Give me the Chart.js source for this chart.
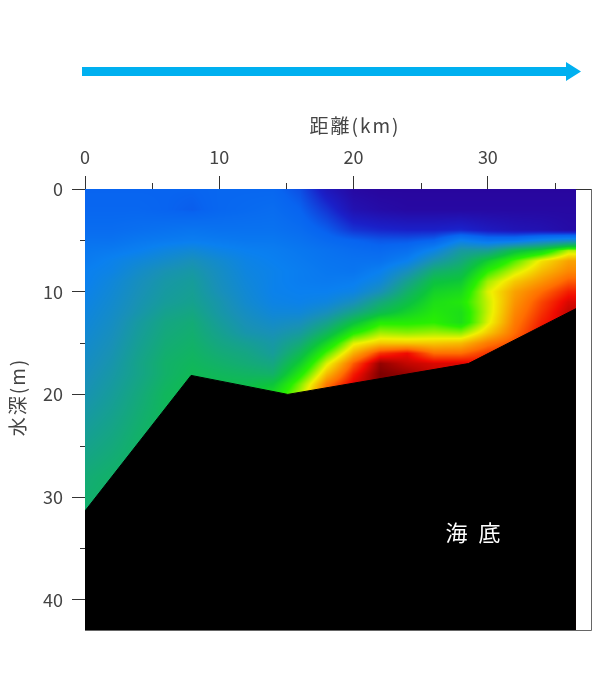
<!DOCTYPE html>
<html><head><meta charset="utf-8">
<style>html,body{margin:0;padding:0;background:#fff}canvas{display:block}</style>
<script src="https://cdn.jsdelivr.net/npm/chart.js@4"></script>
</head><body><canvas id="c" width="605" height="680"></canvas>
<script>
const xMinorTicks=[5,15,25,35];
const yMinorTicks=[5,15,25,35];
const seabedDistance=[0,7.9,15.1,28.55,36.56];
const seabedDepth=[31.35,18.15,20.0,17.0,11.65];
const sectionEnd=36.56;
const gridDistance=[0,2,4,6,8,10,12,14,16,18,20,22,24,26,28,30,32,34,36];
const gridDepth=[0,2,4,5,6,7,8,9,10,11,12,13,14,15,16,17,18,19,20,24,28,32];
const heatValues=[
[2.0,2.0,2.0,2.0,2.0,2.1,2.1,2.1,1.7,0.7,0.2,0.1,0.1,0.1,0.1,0.1,0.1,0.1,0.1],
[2.1,2.1,2.1,2.0,1.9,2.1,2.2,2.3,2.0,1.3,0.5,0.3,0.2,0.2,0.2,0.2,0.2,0.2,0.2],
[2.3,2.3,2.4,2.5,2.6,2.5,2.5,2.5,2.3,1.9,1.3,1.1,1.0,1.0,1.1,0.8,0.6,0.5,0.3],
[2.5,2.5,2.7,2.8,2.9,2.8,2.7,2.7,2.5,2.2,2.0,1.8,1.8,2.0,3.0,2.5,2.6,3.2,3.6],
[2.7,2.8,3.0,3.3,3.5,3.2,3.0,2.9,2.7,2.5,2.3,2.2,2.4,3.2,4.4,4.6,5.8,6.4,7.7],
[2.8,3.1,3.4,3.7,4.0,3.6,3.2,3.0,2.8,2.6,2.5,2.5,3.0,4.2,5.0,6.2,7.2,8.1,8.6],
[3.0,3.2,3.7,4.1,4.3,3.8,3.3,3.1,2.9,2.7,2.6,3.0,3.9,5.2,5.6,7.0,7.8,8.4,8.8],
[3.0,3.4,3.9,4.3,4.5,3.9,3.4,3.1,2.9,2.8,2.9,3.4,4.7,5.9,6.1,7.6,8.3,8.7,9.1],
[3.1,3.5,4.0,4.4,4.6,4.0,3.5,3.1,3.0,3.0,3.2,4.0,5.3,6.3,6.5,7.9,8.6,9.0,9.4],
[3.2,3.6,4.1,4.5,4.7,4.2,3.6,3.2,3.1,3.3,3.9,5.0,5.8,6.6,6.8,7.8,8.7,9.2,9.6],
[3.3,3.7,4.2,4.7,4.9,4.3,3.8,3.4,3.4,3.9,4.8,5.7,6.3,6.8,6.6,7.8,8.8,9.3,9.7],
[3.4,3.8,4.4,4.9,5.1,4.5,4.0,3.7,3.9,4.7,5.9,6.9,6.9,7.0,6.6,7.9,8.9,9.4,9.7],
[3.5,3.9,4.5,5.0,5.2,4.7,4.2,4.0,4.4,5.5,6.9,7.6,7.5,7.6,7.5,8.3,9.0,9.5,9.7],
[3.6,4.0,4.6,5.1,5.3,4.9,4.6,4.3,5.0,6.4,7.9,8.3,8.3,8.3,8.4,8.9,9.2,9.5,9.7],
[3.7,4.1,4.7,5.2,5.4,5.1,4.9,4.5,5.6,7.2,8.5,9.3,9.5,9.0,9.0,9.3,9.4,9.5,9.7],
[3.8,4.2,4.8,5.3,5.5,5.3,5.1,4.9,6.2,7.9,9.1,9.9,9.7,9.6,9.6,9.5,9.5,9.5,9.7],
[3.9,4.3,4.8,5.3,5.6,5.5,5.4,5.3,6.8,8.4,9.4,10,9.9,9.7,9.6,9.5,9.5,9.5,9.7],
[4.0,4.4,4.9,5.4,5.7,5.7,5.7,6.0,7.4,8.9,9.6,10,9.9,9.7,9.6,9.5,9.5,9.5,9.7],
[4.1,4.5,5.0,5.5,5.7,5.8,6.0,6.5,7.7,9.2,9.6,10,9.9,9.7,9.6,9.5,9.5,9.5,9.7],
[4.6,4.9,5.3,5.6,5.8,5.9,6.1,6.6,8.0,9.2,9.6,10,9.9,9.7,9.6,9.5,9.5,9.5,9.7],
[5.1,5.3,5.5,5.7,5.8,5.9,6.1,6.6,8.0,9.2,9.6,10,9.9,9.7,9.6,9.5,9.5,9.5,9.7],
[5.3,5.5,5.6,5.7,5.8,5.9,6.1,6.6,8.0,9.2,9.6,10,9.9,9.7,9.6,9.5,9.5,9.5,9.7]
];
const colorStops=[[0,42,3,153],[1,26,32,200],[2,8,100,240],[3,10,128,240],[4,24,144,184],[5,20,168,124],[6,12,196,60],[7,40,240,0],[8,240,240,0],[9,255,110,0],[9.5,240,10,0],[10,125,0,0]];
const FONT='"Noto Sans CJK JP","Noto Sans",sans-serif';
const TEXT='#444';

function colorFor(v){
  if(v<=colorStops[0][0])return colorStops[0].slice(1);
  for(let i=1;i<colorStops.length;i++){
    const a=colorStops[i-1],b=colorStops[i];
    if(v<=b[0]){const t=(v-a[0])/(b[0]-a[0]);return [a[1]+(b[1]-a[1])*t,a[2]+(b[2]-a[2])*t,a[3]+(b[3]-a[3])*t];}
  }
  return colorStops[colorStops.length-1].slice(1);
}
function locate(arr,v){
  if(v<=arr[0])return [0,0];
  for(let i=1;i<arr.length;i++){if(v<=arr[i])return [i-1,(v-arr[i-1])/(arr[i]-arr[i-1])];}
  return [arr.length-2,1];
}
function sample(x,y){
  const [i,u]=locate(gridDistance,x),[j,w]=locate(gridDepth,y);
  const r0=heatValues[j],r1=heatValues[Math.min(j+1,heatValues.length-1)];
  const a=r0[i]+(r0[i+1]-r0[i])*u,b=r1[i]+(r1[i+1]-r1[i])*u;
  return a+(b-a)*w;
}
const sectionPlugin={
  id:'section',
  beforeDatasetsDraw(chart){
    const {ctx,chartArea:ca,scales:{x:xs,y:ys}}=chart;
    const w=Math.round(ca.right-ca.left),h=Math.round(ca.bottom-ca.top);
    const off=document.createElement('canvas');off.width=w;off.height=h;
    const oc=off.getContext('2d'),img=oc.createImageData(w,h);
    for(let py=0;py<h;py++){
      const yv=ys.getValueForPixel(ca.top+py+0.5);
      for(let px=0;px<w;px++){
        const xv=xs.getValueForPixel(ca.left+px+0.5);
        if(xv>sectionEnd)continue;
        const c=colorFor(sample(xv,yv)),k=(py*w+px)*4;
        img.data[k]=c[0];img.data[k+1]=c[1];img.data[k+2]=c[2];img.data[k+3]=255;
      }
    }
    oc.putImageData(img,0,0);
    ctx.drawImage(off,ca.left,ca.top);
  },
  afterDraw(chart){
    const {ctx,chartArea:ca,scales:{x:xs,y:ys}}=chart;
    ctx.save();
    ctx.strokeStyle='#333';ctx.lineWidth=1;ctx.beginPath();
    xMinorTicks.forEach(v=>{const p=Math.round(xs.getPixelForValue(v))+0.5;ctx.moveTo(p,ca.top-6);ctx.lineTo(p,ca.top);});
    yMinorTicks.forEach(v=>{const p=Math.round(ys.getPixelForValue(v))+0.5;ctx.moveTo(ca.left-5,p);ctx.lineTo(ca.left,p);});
    ctx.stroke();
    ctx.strokeStyle='#666';ctx.beginPath();
    ctx.moveTo(ca.right+0.5,ca.top);ctx.lineTo(ca.right+0.5,ca.bottom+0.5);ctx.lineTo(ca.left,ca.bottom+0.5);ctx.stroke();
    ctx.fillStyle=TEXT;ctx.font='19px '+FONT;ctx.textAlign='center';ctx.textBaseline='middle';
    ctx.letterSpacing='2px';
    ctx.fillText('距離(km)',355,126);
    ctx.save();ctx.translate(18,397);ctx.rotate(-Math.PI/2);ctx.fillText('水深(m)',0,0);ctx.restore();
    ctx.fillStyle='#fff';ctx.font='22px '+FONT;ctx.letterSpacing='3px';
    ctx.fillText('海 底',xs.getPixelForValue(29.0),ys.getPixelForValue(33.5));
    ctx.letterSpacing='0px';
    ctx.fillStyle='#00b0f0';ctx.beginPath();
    ctx.moveTo(82,67);ctx.lineTo(566,67);ctx.lineTo(566,62);ctx.lineTo(581,71.5);ctx.lineTo(566,81);ctx.lineTo(566,76);ctx.lineTo(82,76);ctx.closePath();ctx.fill();
    ctx.restore();
  }
};
new Chart(document.getElementById('c'),{
  type:'line',
  data:{datasets:[{
    label:'海底',
    data:seabedDistance.map((x,i)=>({x,y:seabedDepth[i]})),
    borderColor:'#000',borderWidth:1,backgroundColor:'#000',fill:'start',pointRadius:0,tension:0
  }]},
  options:{
    responsive:false,animation:false,devicePixelRatio:1,
    layout:{padding:{left:0,top:0,right:14,bottom:50}},
    plugins:{legend:{display:false},tooltip:{enabled:false}},
    scales:{
      x:{type:'linear',position:'top',min:0,max:37.68,
        afterFit(s){s.height=189;},
        border:{display:true,color:'#333',width:1},
        grid:{drawOnChartArea:false,drawTicks:true,tickLength:13,color:'#333'},
        ticks:{stepSize:10,includeBounds:false,maxRotation:0,autoSkip:false,padding:8,color:TEXT,font:{family:FONT,size:18}}
      },
      y:{type:'linear',reverse:true,min:0,max:42.94,
        afterFit(s){s.width=85;},
        border:{display:true,color:'#333',width:1},
        grid:{drawOnChartArea:false,drawTicks:true,tickLength:13,color:'#333'},
        ticks:{stepSize:10,includeBounds:false,autoSkip:false,padding:9,color:TEXT,font:{family:FONT,size:18}}
      }
    }
  },
  plugins:[sectionPlugin]
});
</script></body></html>
